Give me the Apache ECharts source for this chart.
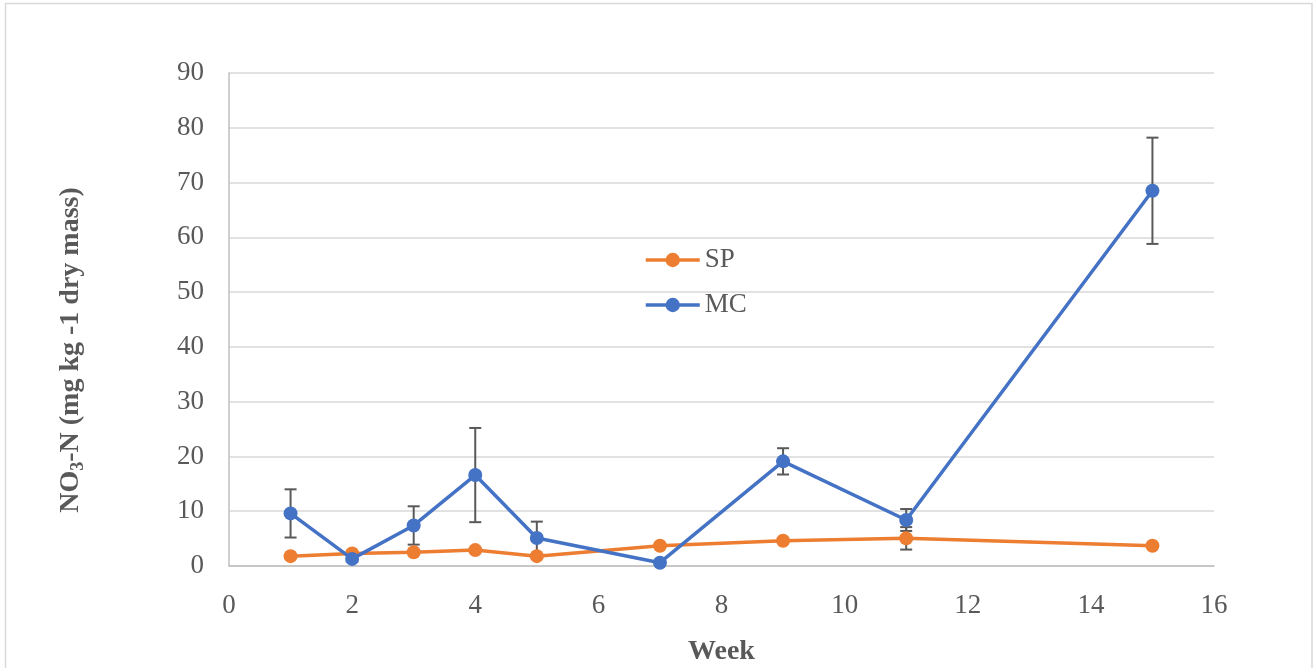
<!DOCTYPE html>
<html>
<head>
<meta charset="utf-8">
<script src="https://cdn.jsdelivr.net/npm/echarts@6/dist/echarts.min.js"></script>
<style>
  html, body { margin: 0; padding: 0; background: #ffffff; }
  #chart { width: 1316px; height: 668px; }
</style>
</head>
<body>
<div id="chart"></div>
<script>
// Sampling weeks and NO3-N concentrations (mg kg-1 dry mass)
const weeks = [1, 2, 3, 4, 5, 7, 9, 11, 15];
const spValues = [1.8, 2.3, 2.5, 2.9, 1.8, 3.7, 4.6, 5.05, 3.7];
const mcValues = [9.6, 1.3, 7.4, 16.6, 5.1, 0.6, 19.1, 8.4, 68.5];
// Half-width of the error bars (standard error)
const spErrors = [0, 0, 0, 0, 0, 0, 0, 2.05, 0];
const mcErrors = [4.4, 0, 3.5, 8.6, 3.0, 0, 2.4, 2.0, 9.7];
// Axis ticks
const xTicks = [0, 2, 4, 6, 8, 10, 12, 14, 16];
const yTicks = [0, 10, 20, 30, 40, 50, 60, 70, 80, 90];

const FONT = '"Liberation Serif", "Times New Roman", serif';
const TEXT = '#595959';
const ORANGE = '#ED7D31';
const BLUE = '#4472C4';

function pairs(vals) { return weeks.map((w, i) => [w, vals[i]]); }
function errTriples(vals, errs) { return weeks.map((w, i) => [w, vals[i], errs[i]]); }

// Vertical error bar with caps at each point
function renderErrorBar(params, api) {
  const x = api.value(0), y = api.value(1), e = api.value(2);
  if (!e) return null;
  const top = api.coord([x, y + e]);
  const bot = api.coord([x, y - e]);
  const hw = 6;
  const style = { stroke: '#595959', lineWidth: 2 };
  return {
    type: 'group',
    children: [
      { type: 'line', shape: { x1: top[0], y1: top[1], x2: bot[0], y2: bot[1] }, style },
      { type: 'line', shape: { x1: top[0] - hw, y1: top[1], x2: top[0] + hw, y2: top[1] }, style },
      { type: 'line', shape: { x1: bot[0] - hw, y1: bot[1], x2: bot[0] + hw, y2: bot[1] }, style }
    ]
  };
}

const chart = echarts.init(document.getElementById('chart'), null, { renderer: 'canvas' });

chart.setOption({
  animation: false,
  backgroundColor: '#ffffff',
  grid: { left: 229, right: 102, top: 73, bottom: 102, containLabel: false, outerBoundsMode: 'none' },
  legend: {
    orient: 'vertical',
    left: 639,
    top: 240,
    itemWidth: 54,
    itemHeight: 18,
    itemGap: 15,
    data: ['SP', 'MC'],
    lineStyle: { width: 3.5 },
    textStyle: { fontFamily: FONT, fontSize: 27, color: TEXT, lineHeight: 30 }
  },
  xAxis: {
    type: 'value',
    min: xTicks[0],
    max: xTicks[xTicks.length - 1],
    interval: xTicks[1] - xTicks[0],
    name: 'Week',
    nameLocation: 'middle',
    nameGap: 72,
    nameTextStyle: { fontFamily: FONT, fontSize: 28, fontWeight: 'bold', color: TEXT },
    axisLine: { show: true, lineStyle: { color: '#bfbfbf', width: 1.5 } },
    axisTick: { show: false },
    axisLabel: { margin: 26, fontFamily: FONT, fontSize: 27, color: TEXT },
    splitLine: { show: false }
  },
  yAxis: {
    type: 'value',
    min: yTicks[0],
    max: yTicks[yTicks.length - 1],
    interval: yTicks[1] - yTicks[0],
    axisLine: { show: true, lineStyle: { color: '#bfbfbf', width: 1.5 } },
    axisTick: { show: false },
    axisLabel: { margin: 25, fontFamily: FONT, fontSize: 27, color: TEXT },
    splitLine: { show: true, lineStyle: { color: '#d9d9d9', width: 1.5 } }
  },
  graphic: [
    {
      type: 'rect',
      silent: true,
      z: -1,
      shape: { x: 5.5, y: 3.5, width: 1306.5, height: 680 },
      style: { fill: 'none', stroke: '#d9d9d9', lineWidth: 1.5 }
    },
    {
      type: 'text',
      silent: true,
      x: 71,
      y: 350,
      rotation: Math.PI / 2,
      style: {
        text: '{b|NO}{s|3}{b|-N (mg kg -1 dry mass)}',
        align: 'center',
        verticalAlign: 'middle',
        rich: {
          b: { fontFamily: FONT, fontSize: 28, fontWeight: 'bold', fill: TEXT, lineHeight: 32 },
          s: { fontFamily: FONT, fontSize: 18, fontWeight: 'bold', fill: TEXT, lineHeight: 32, padding: [14, 0, 0, 0] }
        }
      }
    }
  ],
  series: [
    {
      type: 'custom',
      name: 'SP error',
      renderItem: renderErrorBar,
      encode: { x: 0, y: 1 },
      data: errTriples(spValues, spErrors),
      z: 1,
      silent: true
    },
    {
      type: 'custom',
      name: 'MC error',
      renderItem: renderErrorBar,
      encode: { x: 0, y: 1 },
      data: errTriples(mcValues, mcErrors),
      z: 1,
      silent: true
    },
    {
      name: 'SP',
      type: 'line',
      data: pairs(spValues),
      symbol: 'circle',
      symbolSize: 14,
      color: ORANGE,
      lineStyle: { color: ORANGE, width: 3.5 },
      itemStyle: { color: ORANGE },
      z: 3
    },
    {
      name: 'MC',
      type: 'line',
      data: pairs(mcValues),
      symbol: 'circle',
      symbolSize: 14,
      color: BLUE,
      lineStyle: { color: BLUE, width: 3.5 },
      itemStyle: { color: BLUE },
      z: 4
    }
  ]
});
</script>
</body>
</html>
